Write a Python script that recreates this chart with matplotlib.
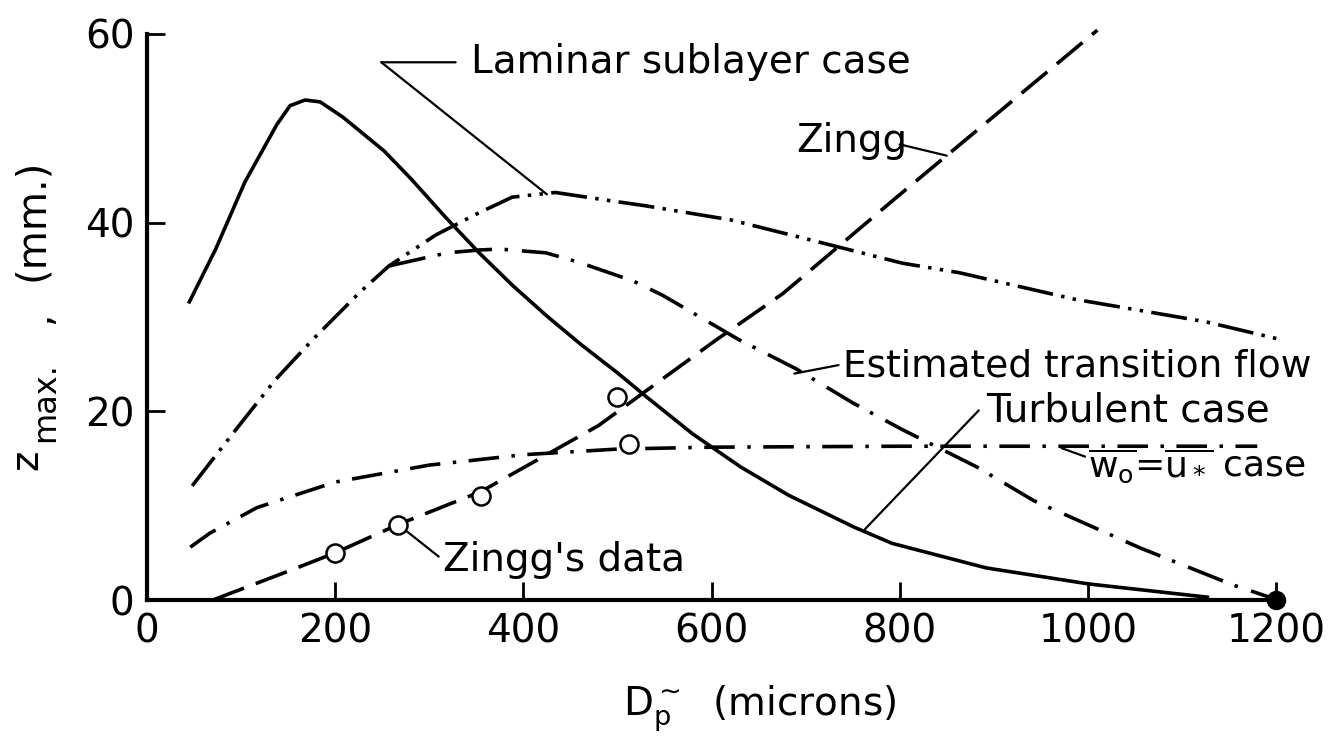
import matplotlib
matplotlib.use("Agg")
import matplotlib.pyplot as plt

# particle diameter (microns) vs z_max (mm)
turb_x = [45, 73, 104, 138, 152, 168, 184, 208, 252, 281, 317, 353, 389, 425,
          461, 501, 530, 580, 631, 682, 752, 792, 892, 1001, 1127]
turb_y = [31.6, 37.2, 44.3, 50.4, 52.4, 53.0, 52.8, 51.2, 47.6, 44.6, 40.6,
          36.8, 33.3, 30.1, 27.1, 24.0, 21.6, 17.6, 14.1, 11.1, 7.7, 6.0, 3.4,
          1.7, 0.3]

lam_x = [48, 90, 136, 178, 226, 257, 307, 352, 388, 434, 494, 529, 620, 700,
         803, 863, 985, 1125, 1201]
lam_y = [12.1, 17.5, 23.3, 27.8, 32.6, 35.4, 38.7, 41.0, 42.7, 43.2, 42.3,
         41.8, 40.3, 38.3, 35.7, 34.7, 31.9, 29.5, 27.7]

trans_x = [257, 319, 353, 375, 424, 459, 517, 548, 629, 690, 750, 802, 882,
           943, 1056, 1154, 1202]
trans_y = [35.4, 36.8, 37.1, 37.2, 36.8, 35.8, 33.8, 32.3, 27.6, 24.5, 20.9,
           18.1, 14.1, 10.5, 5.5, 1.6, 0.0]

wu_x = [46, 67, 117, 200, 300, 400, 500, 600, 800, 1000, 1180]
wu_y = [5.6, 7.1, 9.8, 12.5, 14.3, 15.4, 16.0, 16.2, 16.3, 16.3, 16.3]

zingg_x = [70, 154, 200, 267, 355, 480, 535, 604, 676, 798, 1010]
zingg_y = [0.0, 3.2, 5.0, 8.0, 11.5, 18.5, 22.5, 27.5, 32.5, 42.8, 60.4]

data_x = [200, 267, 355, 500, 512]
data_y = [5.0, 8.0, 11.0, 21.5, 16.5]

plt.rcParams['font.family'] = 'DejaVu Sans'
plt.rcParams['font.size'] = 28
plt.rcParams['mathtext.default'] = 'regular'
plt.rcParams['lines.scale_dashes'] = False

W, H = 1339, 750
fig = plt.figure(figsize=(W / 100, H / 100), dpi=100)
ax = fig.add_axes([0.1098, 0.2, 0.8432, 0.7547])

lw = 2.6
ax.plot(turb_x, turb_y, color='k', lw=lw, clip_on=False)
ax.plot(lam_x, lam_y, color='k', lw=lw, dashes=(26, 6, 2.5, 6, 2.5, 6),
        clip_on=False)
ax.plot(trans_x, trans_y, color='k', lw=lw, dashes=(27, 9, 2.5, 10),
        clip_on=False)
ax.plot(wu_x, wu_y, color='k', lw=lw, dashes=(22, 9, 2.5, 9), clip_on=False)
ax.plot(zingg_x, zingg_y, color='k', lw=lw, dashes=(24, 9), clip_on=False)
ax.plot(data_x, data_y, 'o', ms=13, mfc='white', mec='k', mew=1.8,
        clip_on=False, zorder=5)
ax.plot([1200], [0], 'o', ms=13, color='k', clip_on=False, zorder=6)

ax.set_xlim(0, 1200)
ax.set_ylim(0, 60)
for s in ['top', 'right']:
    ax.spines[s].set_visible(False)
for s in ['left', 'bottom']:
    ax.spines[s].set_linewidth(3)
ax.set_xticks([0, 200, 400, 600, 800, 1000, 1200])
ax.set_yticks([0, 20, 40, 60])
ax.tick_params(direction='in', length=13, width=2, pad=9)

# leader lines and curve labels
lead = dict(arrowstyle='-', lw=1.6, color='k', shrinkA=0, shrinkB=0)
ax.annotate('', xy=(425, 43.0), xytext=(249, 57), arrowprops=lead)
ax.annotate('', xy=(328, 57), xytext=(249, 57), arrowprops=lead)
ax.text(344, 57, 'Laminar sublayer case', ha='left', va='center')

ax.text(690, 48.7, 'Zingg', ha='left', va='center')
ax.annotate('', xy=(850, 47.1), xytext=(800, 48.3), arrowprops=lead)

ax.text(740, 24.8, 'Estimated transition flow', ha='left', va='center',
        fontsize=27)
ax.annotate('', xy=(688, 24.0), xytext=(735, 24.9), arrowprops=lead)

ax.text(892, 20.1, 'Turbulent case', ha='left', va='center')
ax.annotate('', xy=(763, 7.5), xytext=(884, 20.1), arrowprops=lead)

ax.text(1000, 14.3, r'$\overline{w_o}$=$\overline{u_*}$ case', ha='left',
        va='center', fontsize=26)
ax.annotate('', xy=(972, 16.1), xytext=(997, 15.2), arrowprops=lead)

ax.text(315, 4.2, "Zingg's data", ha='left', va='center')
ax.annotate('', xy=(267, 8), xytext=(310, 4.6),
            arrowprops=dict(lead, shrinkB=8))

# y axis title, set piece by piece so the subscript stays large
def ylab(s, x, y, size):
    fig.text(x / W, 1 - y / H, s, rotation=90, ha='center', va='center',
             fontsize=size)

ylab('z', 26, 460, 28)
ylab('max.', 46, 402, 23)
ylab(',', 38, 318, 28)
ylab('(mm.)', 32, 220, 29)

fig.text(623 / W, 1 - 715 / H, r'$D_p^{\sim}$  (microns)', ha='left',
         va='baseline')

fig.savefig('out.png', dpi=100)
